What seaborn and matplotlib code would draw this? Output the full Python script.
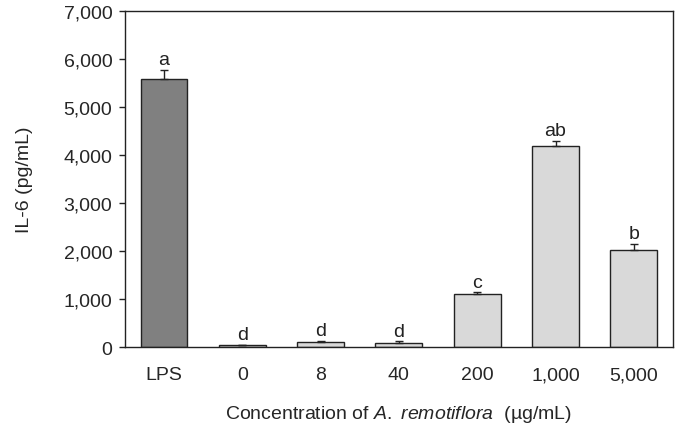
import matplotlib.pyplot as plt
import seaborn as sns
import pandas as pd

# data
groups = ['LPS', '0', '8', '40', '200', '1,000', '5,000']
il6 = [5580, 35, 110, 75, 1100, 4185, 2020]
sd = [190, 10, 10, 40, 40, 105, 125]
letters = ['a', 'd', 'd', 'd', 'c', 'ab', 'b']
kind = ['LPS', 'ext', 'ext', 'ext', 'ext', 'ext', 'ext']

df = pd.DataFrame({'group': groups, 'il6': il6, 'kind': kind})

sns.set_style('white')
plt.rcParams['font.family'] = ['Liberation Sans', 'DejaVu Sans']
plt.rcParams['mathtext.fontset'] = 'custom'
plt.rcParams['mathtext.rm'] = 'Liberation Sans'
plt.rcParams['mathtext.it'] = 'Liberation Sans:italic'

fig = plt.figure(figsize=(6.86, 4.27), dpi=100)
ax = fig.add_axes([0.182, 0.185, 0.799, 0.787])

sns.barplot(data=df, x='group', y='il6', hue='kind',
            palette={'LPS': '#808080', 'ext': '#d9d9d9'},
            dodge=False, width=0.6, edgecolor='#222222', linewidth=1.0,
            legend=False, ax=ax)

# upper error bars only
ax.errorbar(range(len(groups)), il6, yerr=[[0] * len(sd), sd], fmt='none',
            ecolor='#222222', elinewidth=1.0, capsize=3, capthick=1.0)

# significance letters
for i, (v, s, t) in enumerate(zip(il6, sd, letters)):
    ax.text(i, v + s + 120, t, ha='center', va='baseline', fontsize=14, color='#222222')

ax.set_xlim(-0.5, 6.5)
ax.set_ylim(0, 7000)
ax.set_yticks(range(0, 7001, 1000))
ax.set_yticklabels([f'{v:,}' for v in range(0, 7001, 1000)])

for sp in ax.spines.values():
    sp.set_color('#222222')
    sp.set_linewidth(1.0)

# category boundary ticks on x-axis, pointing inward
ax.set_xticks([i + 0.5 for i in range(6)], minor=True)
ax.tick_params(axis='x', which='major', length=0, pad=14, labelsize=14)
ax.tick_params(axis='x', which='minor', direction='in', length=5, width=1, color='#222222')
ax.tick_params(axis='y', direction='out', length=4, width=1, color='#222222',
               left=True, labelsize=14, pad=5)

ax.set_ylabel('IL-6 (pg/mL)', fontsize=14, labelpad=22)
ax.set_xlabel('Concentration of $\\mathit{A.\\ remotiflora}$  (µg/mL)', fontsize=14, labelpad=14)

plt.savefig('out.png', dpi=100)
